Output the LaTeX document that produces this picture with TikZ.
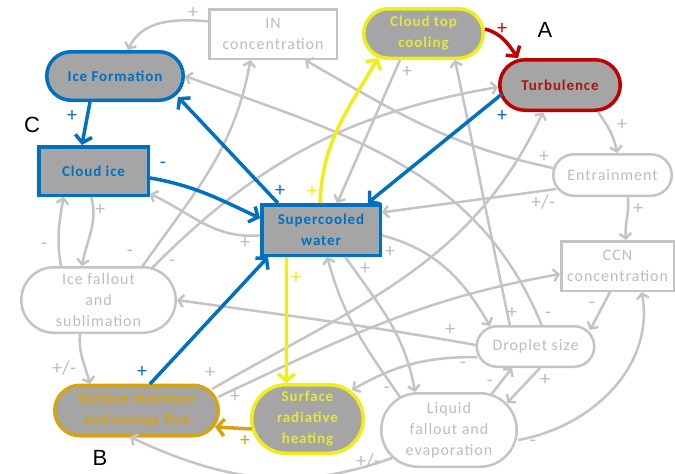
\documentclass[tikz,border=0pt]{standalone}
\usepackage{fontspec}
\setmainfont{Carlito}
\newfontfamily\nodefont{Carlito}[LetterSpace=6]
\newfontfamily\letterfont{Liberation Sans}
\usetikzlibrary{calc,arrows.meta}
\definecolor{cblue}{HTML}{0070C0}
\definecolor{cfill}{HTML}{A5A5A5}
\definecolor{cgray}{HTML}{C4C4C4}
\definecolor{ctext}{HTML}{BDBDBD}
\definecolor{cyel}{HTML}{EEEE1A}
\definecolor{cyeltext}{HTML}{E6E640}
\definecolor{cgold}{HTML}{D6A313}
\definecolor{cred}{HTML}{C00000}
\definecolor{credtext}{HTML}{A8141B}
\tikzset{
  nbase/.style={align=center, inner sep=0pt, rectangle,
    font=\nodefont\fontsize{15}{21}\selectfont},
  gnode/.style={nbase, draw=cgray, line width=2.5pt, fill=white, text=ctext,
    font=\nodefont\fontsize{16}{21}\selectfont},
  knode/.style={nbase, fill=cfill, line width=3.5pt,
    font=\nodefont\fontsize{15}{21}\selectfont\bfseries},
  gline/.style={draw=cgray, line width=2.5pt, -{Straight Barb[length=5pt,width=12pt]}},
  kline/.style={line width=3.5pt, -{Straight Barb[length=7pt,width=17pt]}},
  pm/.style={font=\fontsize{20}{20}\selectfont, text=ctext, inner sep=0pt},
  letter/.style={font=\letterfont\fontsize{22}{22}\selectfont, text=black, inner sep=0pt}
}
\begin{document}
\begin{tikzpicture}[x=1pt,y=-1pt]
\useasboundingbox (0,0) rectangle (675,474);
% nodes
\node[gnode, minimum width=127.5pt, minimum height=49.5pt] (IN) at (273,34) {IN\\concentration};
\node[knode, draw=cblue, text=cblue, minimum width=136.5pt, minimum height=48.5pt, rounded corners=24.25pt] (IceF) at (115,76) {Ice Formation};
\node[knode, draw=cyel, text=cyeltext, minimum width=119.5pt, minimum height=49.5pt, rounded corners=24.75pt] (CTC) at (423.5,33.5) {Cloud top\\cooling};
\node[knode, draw=cred, text=credtext, minimum width=120.5pt, minimum height=50.5pt, rounded corners=25.25pt] (Turb) at (560,85) {Turbulence};
\node[knode, draw=cblue, text=cblue, minimum width=109.5pt, minimum height=48.5pt] (CloudIce) at (93.5,171) {Cloud ice};
\node[knode, draw=cblue, text=cblue, minimum width=118.5pt, minimum height=50.5pt] (SCW) at (321,230) {Supercooled\\water};
\node[gnode, minimum width=118.5pt, minimum height=41.5pt, rounded corners=20.75pt] (Entr) at (612.5,175) {Entrainment};
\node[gnode, minimum width=112.5pt, minimum height=49.5pt] (CCN) at (617.5,266) {CCN\\concentration};
\node[gnode, minimum width=154.5pt, minimum height=65.5pt, rounded corners=32.75pt] (IceFall) at (98.5,300) {Ice fallout\\and\\sublimation};
\node[gnode, minimum width=117.5pt, minimum height=40.5pt, rounded corners=20.25pt] (Drop) at (535.5,346.5) {Droplet size};
\node[knode, draw=cgold, text=cgold, minimum width=163.5pt, minimum height=50.5pt, rounded corners=25.25pt] (SurfM) at (136.5,410.5) {Surface moisture\\and energy flux};
\node[knode, draw=cyel, text=cyeltext, minimum width=111.5pt, minimum height=68.5pt, rounded corners=34.25pt] (SRH) at (307.5,419) {Surface\\radiative\\heating};
\node[gnode, minimum width=135.5pt, minimum height=73.5pt, rounded corners=36.75pt] (Liq) at (449,430) {Liquid\\fallout and\\evaporation};
% letters
\node[letter] (LA) at (545,30) {A};
\node[letter] (LB) at (100,458) {B};
\node[letter] (LC) at (32,125) {C};
% gray connectors
\draw[gline] (IN.169) to[out=175,in=65] ($(IceF.center)+(13,-26)$);
\draw[gline] (CloudIce.265) to[out=-75,in=80] ($(IceFall.center)+(-16.5,-34)$);
\draw[gline] ($(IceFall.center)+(-37.5,-34)$) to[out=100,in=-100] (CloudIce.221);
\draw[gline] ($(IceFall.center)+(-18.5,33)$) to[out=-95,in=105] ($(SurfM.center)+(-46.5,-26.5)$);
\draw[gline] ($(IceFall.center)+(43.5,-33)$) to[out=55,in=-100] (IN.229);
\draw[gline] ($(IceFall.center)+(53.5,-32)$) to[out=45,in=190] ($(Turb.center)+(-62,2)$);
\draw[gline] (SCW.185) to[out=185,in=-25] (CloudIce.338);
\draw[gline] ($(CTC.center)+(-23.5,26.5)$) -- (SCW.59);
\draw[gline] ($(Drop.center)+(-25.5,-20.5)$) to[out=102,in=-78] ($(CTC.center)+(31.5,26.5)$);
\draw[gline] ($(Drop.center)+(6.5,-20.5)$) to[out=112,in=-20] ($(IceF.center)+(70,0)$);
\draw[gline] ($(Entr.center)+(-59.5,-7)$) to[out=168,in=-30] (IN.321);
\draw[gline] ($(Entr.center)+(-56.5,14)$) to[out=188,in=8] (SCW.16);
\draw[gline] (SCW.355) to[out=-15,in=120] ($(Drop.center)+(-45.5,-20.5)$);
\draw[gline] (SCW.312) to[out=-55,in=100] ($(Liq.center)+(-34,-38)$);
\draw[gline] ($(Liq.center)+(-49,-33)$) to[out=125,in=-75] (SCW.283);
\draw[gline] ($(Drop.center)+(-59.5,-1.5)$) to[out=170,in=-8] ($(IceFall.center)+(78.5,0)$);
\draw[gline] ($(Drop.center)+(-58.5,10.5)$) to[out=180,in=30] ($(SRH.center)+(44.5,-29)$);
\draw[gline] (CCN.254) -- ($(Drop.center)+(54.5,-16.5)$);
\draw[gline] ($(Drop.center)+(4.5,21.5)$) -- ($(Liq.center)+(58,-27)$);
\draw[gline] ($(Liq.center)+(41,-34)$) -- ($(Drop.center)+(-23.5,21.5)$);
\draw[gline] ($(Liq.center)+(69,10)$) to[out=10,in=-80] (CCN.313);
\draw[gline] ($(Liq.center)+(-57,28)$) to[out=200,in=-25] ($(SurfM.center)+(-6.5,26.5)$);
\draw[gline] ($(SurfM.center)+(75.5,-21.5)$) to[out=30,in=-115] ($(Turb.center)+(-17,27)$);
\draw[gline] ($(SurfM.center)+(81.5,-13.5)$) to[out=25,in=190] (CCN.188);
\draw[gline] ($(Turb.center)+(38,27)$) to[out=-55,in=100] ($(Entr.center)+(4.5,-22)$);
\draw[gline] ($(Entr.center)+(15.5,22)$) to[out=-85,in=95] (CCN.72);
% coloured connectors
\draw[kline, draw=cblue] ($(IceF.center)+(-25,26)$) -- (CloudIce.114);
\draw[kline, draw=cblue] (CloudIce.353) to[out=-10,in=155] (SCW.169);
\draw[kline, draw=cblue] (SCW.148) -- ($(IceF.center)+(63,21)$);
\draw[kline, draw=cblue] ($(Turb.center)+(-58,9)$) -- (SCW.30);
\draw[kline, draw=cblue] ($(SurfM.center)+(13.5,-26.5)$) -- (SCW.207);
\draw[kline, draw=cyel] (SCW.92) to[out=88,in=240] ($(CTC.center)+(-45.5,24.5)$);
\draw[kline, draw=cyel] (SCW.218) -- (SCW.218 |- SRH.north);
\draw[kline, draw=cgold] ($(SRH.center)+(-55.5,10)$) -- ($(SurfM.center)+(78.5,16.5)$);
\draw[kline, draw=cred] ($(CTC.center)+(61.5,-4.5)$) to[out=-15,in=125] ($(Turb.center)+(-42,-27)$);
% signs
\node[pm, text=cblue] (s1) at (72,116) {+};
\node[pm, text=cblue] (s2) at (163,165) {-};
\node[pm, text=cblue] (s3) at (280,191) {+};
\node[pm, text=cblue] (s4) at (502,116) {+};
\node[pm, text=cblue] (s5) at (142,372) {+};
\node[pm, text=cyel] (s6) at (312,192) {+};
\node[pm, text=cyel] (s7) at (296,278) {+};
\node[pm, text=cgold] (s8) at (245,441) {+};
\node[pm, text=cred] (s9) at (502,29) {+};
\node[pm] (g1) at (193,13) {+};
\node[pm] (g2) at (100,210) {+};
\node[pm] (g3) at (44,246) {-};
\node[pm] (g4) at (64,368) {+/-};
\node[pm] (g5) at (130,253) {-};
\node[pm] (g6) at (172,263) {-};
\node[pm] (g7) at (245,243) {+};
\node[pm] (g8) at (407,72) {+};
\node[pm] (g9) at (512,313) {+};
\node[pm] (g10) at (548,315) {-};
\node[pm] (g11) at (544,157) {+};
\node[pm] (g12) at (543,202) {+/-};
\node[pm] (g13) at (390,252) {+};
\node[pm] (g14) at (365,269) {+};
\node[pm] (g15) at (387,390) {-};
\node[pm] (g16) at (450,330) {+};
\node[pm] (g17) at (463,365) {-};
\node[pm] (g18) at (592,305) {-};
\node[pm] (g19) at (545,380) {+};
\node[pm] (g20) at (490,383) {-};
\node[pm] (g21) at (533,443) {-};
\node[pm] (g22) at (368,461) {+/-};
\node[pm] (g23) at (210,373) {+};
\node[pm] (g24) at (235,397) {+};
\node[pm] (g25) at (622,125) {+};
\node[pm] (g26) at (638,209) {+};
\end{tikzpicture}
\end{document}
